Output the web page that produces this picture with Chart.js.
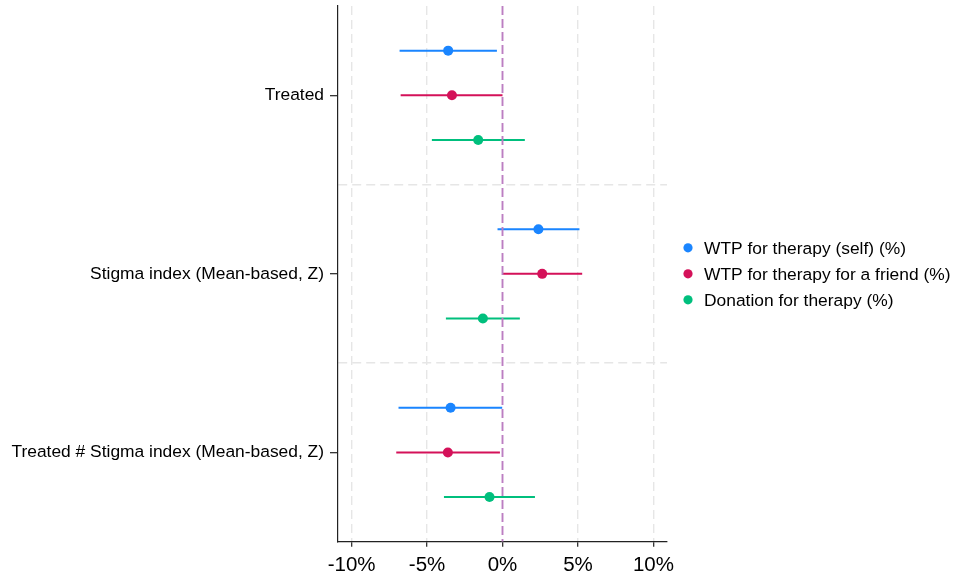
<!DOCTYPE html>
<html>
<head>
<meta charset="utf-8">
<script src="https://cdn.jsdelivr.net/npm/chart.js@4/dist/chart.umd.min.js"></script>
<style>
  html, body { margin: 0; padding: 0; background: #fff; }
  canvas { display: block; }
</style>
</head>
<body>
<canvas id="c" width="954" height="579"></canvas>
<script>
// Coefficients (percent) with 95% confidence bounds, one entry per regressor
const categories = ['Treated', 'Stigma index (Mean-based, Z)', 'Treated # Stigma index (Mean-based, Z)'];
const seriesNames = ['WTP for therapy (self) (%)', 'WTP for therapy for a friend (%)', 'Donation for therapy (%)'];

const selfEst = [-3.60, 2.38, -3.44];
const selfLo  = [-6.82, -0.33, -6.89];
const selfHi  = [-0.37, 5.10, -0.02];

const friendEst = [-3.35, 2.63, -3.62];
const friendLo  = [-6.75, 0.00, -7.04];
const friendHi  = [0.00, 5.28, -0.17];

const donEst = [-1.61, -1.30, -0.86];
const donLo  = [-4.68, -3.75, -3.88];
const donHi  = [1.48, 1.15, 2.15];

const xTicks = [-10, -5, 0, 5, 10];

const colors = ['#1A85FF', '#D41159', '#00BF7D'];
const refColor = '#BC7EC2';
const gridColor = '#E6E6E6';
const axisColor = '#222222';
const FONT = 'Helvetica, "Liberation Sans", Arial, sans-serif';

const series = [
  { est: selfEst, lo: selfLo, hi: selfHi },
  { est: friendEst, lo: friendLo, hi: friendHi },
  { est: donEst, lo: donLo, hi: donHi }
];
const offsets = [-0.25, 0, 0.25];

const datasets = [];
series.forEach((s, k) => {
  // confidence interval segments, separated by gaps
  const seg = [];
  categories.forEach((_, i) => {
    const y = i + offsets[k];
    seg.push({ x: s.lo[i], y }, { x: s.hi[i], y }, { x: s.hi[i], y: null });
  });
  datasets.push({
    type: 'line', data: seg, borderColor: colors[k], borderWidth: 2,
    pointRadius: 0, spanGaps: false, fill: false, order: 3
  });
  // point estimates
  datasets.push({
    type: 'scatter', label: seriesNames[k],
    data: categories.map((_, i) => ({ x: s.est[i], y: i + offsets[k] })),
    backgroundColor: colors[k], borderWidth: 0, pointRadius: 5, order: 0
  });
});
// zero reference line
datasets.push({
  type: 'line', data: [{ x: 0, y: -0.5 }, { x: 0, y: categories.length - 0.5 }],
  borderColor: refColor, borderWidth: 1.9, borderDash: [9, 4], pointRadius: 0, order: 1
});

const legendPlugin = {
  id: 'sideLegend',
  afterDraw(chart) {
    const { ctx, chartArea } = chart;
    const midY = (chartArea.top + chartArea.bottom) / 2;
    const step = 26;
    ctx.save();
    ctx.font = '17.4px ' + FONT;
    ctx.textBaseline = 'middle';
    ctx.textAlign = 'left';
    seriesNames.forEach((name, k) => {
      const y = midY + (k - 1) * step;
      ctx.fillStyle = colors[k];
      ctx.beginPath();
      ctx.arc(chartArea.right + 21, y, 4.6, 0, Math.PI * 2);
      ctx.fill();
      ctx.fillStyle = '#000';
      ctx.fillText(name, chartArea.right + 37, y + 1);
    });
    ctx.restore();
  }
};

new Chart(document.getElementById('c'), {
  data: { datasets },
  options: {
    responsive: false,
    animation: false,
    layout: { padding: { top: 6, right: 287, bottom: 0, left: 0 } },
    plugins: { legend: { display: false }, tooltip: { enabled: false } },
    scales: {
      x: {
        type: 'linear', min: -10.9, max: 10.9,
        afterBuildTicks: s => { s.ticks = xTicks.map(v => ({ value: v })); },
        afterFit: s => { s.height = 37.3; s.paddingLeft = 0; s.paddingRight = 0; },
        ticks: {
          callback: v => v + '%', autoSkip: false, maxRotation: 0,
          color: '#000', font: { family: FONT, size: 20.5 }, padding: 6
        },
        grid: {
          color: c => (c.tick && c.tick.value === 0) ? 'rgba(0,0,0,0)' : gridColor,
          lineWidth: 1.4, tickColor: axisColor, tickLength: 5, tickWidth: 1.2
        },
        border: { display: true, color: axisColor, width: 1.2, dash: [9, 5] }
      },
      y: {
        type: 'linear', min: -0.5, max: categories.length - 0.5, reverse: true,
        afterBuildTicks: s => { s.ticks = [0, 0.5, 1, 1.5, 2].map(v => ({ value: v })); },
        afterFit: s => { s.width = 338; s.paddingTop = 0; s.paddingBottom = 0; },
        ticks: {
          callback: v => Number.isInteger(v) ? categories[v] : '',
          autoSkip: false, color: '#000', font: { family: FONT, size: 17.4 }, padding: 6
        },
        grid: {
          color: c => (c.tick && Number.isInteger(c.tick.value)) ? 'rgba(0,0,0,0)' : gridColor,
          tickColor: c => (c.tick && Number.isInteger(c.tick.value)) ? axisColor : 'rgba(0,0,0,0)',
          lineWidth: 1.4, tickLength: 8, tickWidth: 1.2
        },
        border: { display: true, color: axisColor, width: 1.2, dash: [9, 5] }
      }
    }
  },
  plugins: [legendPlugin]
});
</script>
</body>
</html>
